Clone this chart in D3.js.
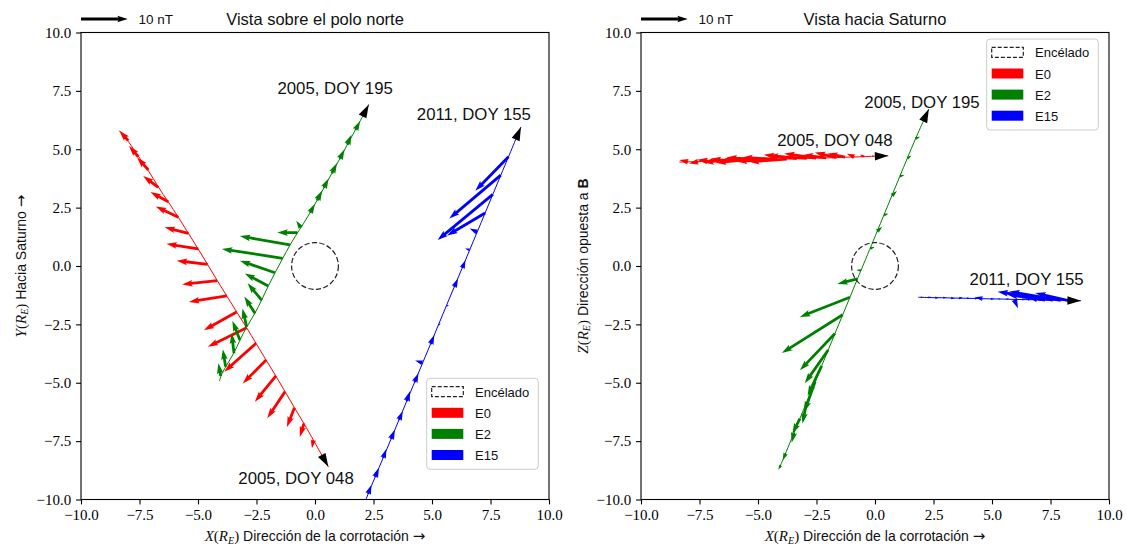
<!DOCTYPE html>
<html>
<head>
<meta charset="utf-8">
<script src="https://cdn.jsdelivr.net/npm/d3@7"></script>
<style>
  body { margin: 0; background: #fff; }
  svg { display: block; }
</style>
</head>
<body>
<svg id="chart" width="1127" height="548"></svg>
<script>
// ---------- data (positions in R_E, field in nT) ----------
const seriesNames = ["E0", "E2", "E15"];
const flybyLabels = ["2005, DOY 048", "2005, DOY 195", "2011, DOY 155"];
const seriesColors = ["red", "green", "blue"];
const tickValues = [-10, -7.5, -5, -2.5, 0, 2.5, 5, 7.5, 10];
const keyValue = 10; // nT
const enceladusRadius = 1;

// E0 - 2005 DOY 048
const e0Start = [-8.36, 5.79, 4.45];
const e0End = [0.57, -8.60, 4.72];
const e0X = [-7.98, -7.55, -7.12, -6.70, -6.27, -5.84, -5.41, -4.99, -4.59, -4.18, -3.77, -3.35, -2.92, -2.52, -2.09, -1.67, -1.28, -0.88, -0.47, -0.07];
const e0Y = [5.37, 4.68, 4.11, 3.37, 2.75, 2.09, 1.40, 0.73, 0.07, -0.63, -1.28, -1.97, -2.64, -3.31, -4.03, -4.71, -5.38, -6.07, -6.74, -7.45];
const e0Z = [4.46, 4.47, 4.49, 4.50, 4.51, 4.52, 4.54, 4.55, 4.56, 4.57, 4.58, 4.60, 4.61, 4.62, 4.63, 4.64, 4.66, 4.67, 4.68, 4.70];
const e0Bx = [-1.9, -2.0, -2.4, -3.2, -3.8, -4.8, -5.1, -6.8, -6.6, -7.5, -8.1, -7.0, -8.3, -6.8, -5.0, -4.5, -3.8, -1.6, -0.9, -0.3];
const e0By = [2.1, 2.3, 2.7, 2.4, 2.1, 2.3, 1.3, 1.1, 0.8, -0.8, -1.3, -3.9, -4.1, -6.1, -5.0, -5.5, -5.7, -4.1, -2.9, -1.8];
const e0Bz = [0.4, -0.4, 0.3, -0.3, 0.4, -0.5, 0.3, 0.5, -0.4, 0.4, -0.6, 0.8, 0.5, 1.0, 0.6, 1.1, 0.8, 0.7, 0.5, 0.3];

// E2 - 2005 DOY 195
const e2Start = [-4.08, -4.93, -8.60];
const e2End = [2.30, 6.92, 6.72];
const e2X = [-4.03, -3.82, -3.46, -3.21, -2.92, -2.56, -2.28, -2.00, -1.71, -1.38, -1.07, -0.75, -0.60, -0.21, 0.09, 0.38, 0.72, 1.06, 1.38, 1.73];
const e2Y = [-4.71, -4.31, -3.74, -3.17, -2.60, -2.03, -1.46, -0.86, -0.29, 0.33, 0.90, 1.43, 1.64, 2.28, 2.81, 3.35, 3.97, 4.59, 5.20, 5.83];
const e2Z = [-8.53, -8.02, -7.14, -6.54, -5.83, -4.96, -4.28, -3.60, -2.89, -2.09, -1.34, -0.55, -0.19, 0.75, 1.48, 2.18, 3.01, 3.84, 4.61, 5.46];
const e2Bx = [-0.5, -0.6, -0.5, -1.6, -0.9, -2.3, -3.0, -5.0, -7.5, -13.0, -10.7, -4.3, -1.0, 1.0, 1.1, 1.0, 1.1, 1.0, 0.9, 1.0];
const e2By = [2.7, 3.7, 4.3, 4.1, 3.9, 3.6, 3.6, 2.7, 2.6, 2.0, 1.9, 0.0, 1.5, 1.9, 2.1, 2.0, 2.2, 2.0, 2.1, 1.9];
const e2Bz = [-1.0, -1.5, -2.1, -3.2, -4.6, -6.4, -6.4, -7.1, -7.9, -8.2, -4.2, -1.1, 0.1, 0.3, 1.0, 0.3, 1.0, 0.3, 0.6, 0.4];

// E15 - 2011 DOY 155
const e15Start = [1.85, -10.80, -1.34];
const e15End = [8.80, 5.95, -1.49];
const e15X = [1.95, 2.27, 2.57, 2.91, 3.25, 3.59, 3.92, 4.26, 4.60, 4.94, 5.27, 5.61, 5.95, 6.29, 6.61, 6.93, 7.27, 7.60, 7.94, 8.27];
const e15Y = [-10.56, -9.76, -9.04, -8.22, -7.41, -6.59, -5.78, -4.97, -4.15, -3.34, -2.53, -1.71, -0.90, -0.09, 0.69, 1.45, 2.27, 3.07, 3.89, 4.68];
const e15Z = [-1.34, -1.35, -1.36, -1.36, -1.37, -1.38, -1.38, -1.39, -1.40, -1.41, -1.41, -1.42, -1.43, -1.44, -1.44, -1.45, -1.46, -1.46, -1.47, -1.48];
const e15Bx = [0.6, 0.7, 0.8, 0.7, 0.8, 0.8, 0.7, 0.8, -1.6, 0.8, 0.5, 0.6, 0.8, 0.7, -1.0, -1.6, -8.1, -11.8, -11.0, -7.1];
const e15By = [1.6, 1.9, 2.0, 1.9, 2.0, 1.9, 2.1, 1.9, 0.5, 1.9, 0.4, 0.2, 1.8, 1.7, 0.3, 0.8, -4.8, -9.8, -9.3, -7.3];
const e15Bz = [0.0, 0.1, 0.0, 0.1, -0.1, 0.2, 0.0, 0.1, 0.3, 0.0, 0.0, 0.1, -1.9, 0.2, 0.3, 0.4, 1.2, 1.8, 1.9, 1.6];

const flybys = [
  { x: e0X, y: e0Y, z: e0Z, bx: e0Bx, by: e0By, bz: e0Bz, start: e0Start, end: e0End },
  { x: e2X, y: e2Y, z: e2Z, bx: e2Bx, by: e2By, bz: e2Bz, start: e2Start, end: e2End },
  { x: e15X, y: e15Y, z: e15Z, bx: e15Bx, by: e15By, bz: e15Bz, start: e15Start, end: e15End }
];

// ---------- layout ----------
const SANS = "'Liberation Sans', Arial, sans-serif";
const SERIF = "'Liberation Serif', 'Times New Roman', serif";
const axTop = 32.5, axSize = 468, axH = 467;
const unitsPerNT = 0.2;          // 10 nT key arrow = 2 R_E
const shaftW = 2.8, headW = 6.6, headL = 10.5, headAL = 9.3;

const panels = [
  {
    left: 81, vIdx: 1, title: "Vista sobre el polo norte",
    yLabel: [["Y", "mi"], ["(", "m"], ["R", "mi"], ["E", "sub"], [")", "m"], [" Hacia Saturno ", "s"], ["→", "arr"]],
    labelPos: [[-0.81, -9.12], [0.86, 7.62], [6.79, 6.47]],
    legendTop: 378.3, yLabelX: 21
  },
  {
    left: 641, vIdx: 2, title: "Vista hacia Saturno",
    yLabel: [["Z", "mi"], ["(", "m"], ["R", "mi"], ["E", "sub"], [")", "m"], [" Dirección opuesta a ", "s"], ["B", "sb"]],
    labelPos: [[-1.71, 5.37], [2.01, 7.02], [6.48, -0.56]],
    legendTop: 39, yLabelX: 583
  }
];
const xLabel = [["X", "mi"], ["(", "m"], ["R", "mi"], ["E", "sub"], [")", "m"], [" Dirección de la corrotación ", "s"], ["→", "arr"]];

const svg = d3.select("#chart");
const fmt = v => d3.format(".1f")(v).replace("-", "−");

function arrowPts(L) {
  const s = L < headL ? L / headL : 1;
  const w = shaftW * s / 2, hw = headW * s / 2, hl = headL * s, hal = headAL * s;
  return [[0, -w], [L - hal, -w], [L - hl, -hw], [L, 0], [L - hl, hw], [L - hal, w], [0, w]];
}

function drawArrow(g, tx, ty, dx, dy, color) {
  const L = Math.hypot(dx, dy);
  if (L < 0.3) return;
  const a = Math.atan2(dy, dx) * 180 / Math.PI;
  g.append("polygon")
    .attr("points", arrowPts(L).map(p => p[0].toFixed(2) + "," + p[1].toFixed(2)).join(" "))
    .attr("transform", `translate(${tx},${ty}) rotate(${a})`)
    .attr("fill", color);
}

function mathText(sel, parts, size) {
  parts.forEach(([t, k], i) => {
    const ts = sel.append("tspan").text(t);
    if (k === "mi") ts.attr("font-family", SERIF).attr("font-style", "italic").attr("font-size", size + 1);
    if (k === "m") ts.attr("font-family", SERIF).attr("font-size", size + 1);
    if (k === "arr") ts.attr("font-family", "'DejaVu Sans', sans-serif").attr("font-size", size + 1);
    if (k === "sub") ts.attr("font-family", SERIF).attr("font-style", "italic").attr("font-size", size * 0.72).attr("dy", 3);
    if (k === "s") ts.attr("font-family", SANS).attr("font-size", size);
    if (k === "sb") ts.attr("font-family", SANS).attr("font-size", size).attr("font-weight", "bold");
    if (i > 0 && parts[i - 1][1] === "sub") ts.attr("dy", -3);
  });
}

panels.forEach((p, pi) => {
  const x = d3.scaleLinear().domain([-10, 10]).range([p.left, p.left + axSize]);
  const y = d3.scaleLinear().domain([-10, 10]).range([axTop + axH, axTop]);
  const bKeys = ["bx", "by", "bz"];
  const pKeys = ["x", "y", "z"];
  const vk = pKeys[p.vIdx], bvk = bKeys[p.vIdx];

  const clipId = "clip" + pi;
  svg.append("clipPath").attr("id", clipId)
    .append("rect").attr("x", p.left).attr("y", axTop).attr("width", axSize).attr("height", axH);

  const g = svg.append("g").attr("clip-path", `url(#${clipId})`);

  flybys.forEach((f, fi) => {
    const color = seriesColors[fi];
    const pts = [[f.start[0], f.start[p.vIdx]]]
      .concat(f.x.map((v, i) => [v, f[vk][i]]))
      .concat([[f.end[0], f.end[p.vIdx]]]);
    g.append("path")
      .attr("d", d3.line().x(d => x(d[0])).y(d => y(d[1])).curve(d3.curveBasis)(pts))
      .attr("fill", "none").attr("stroke", color).attr("stroke-width", 1);

    f.x.forEach((v, i) => {
      const tx = x(v), ty = y(f[vk][i]);
      const dx = x(v + f.bx[i] * unitsPerNT) - tx;
      const dy = y(f[vk][i] + f[bvk][i] * unitsPerNT) - ty;
      drawArrow(g, tx, ty, dx, dy, color);
    });

    // direction head at the end of the track
    const ex = x(f.end[0]), ey = y(f.end[p.vIdx]);
    const prev = pts[pts.length - 2];
    const a = Math.atan2(ey - y(prev[1]), ex - x(prev[0])) * 180 / Math.PI;
    g.append("polygon")
      .attr("points", "0,0 -13.5,-4.3 -13.5,4.3")
      .attr("transform", `translate(${ex},${ey}) rotate(${a})`)
      .attr("fill", "black");
  });

  // Enceladus
  g.append("circle")
    .attr("cx", x(0)).attr("cy", y(0))
    .attr("r", x(enceladusRadius) - x(0))
    .attr("fill", "none").attr("stroke", "#222").attr("stroke-width", 1.2)
    .attr("stroke-dasharray", "5.2,2.4");

  // axes
  const xAxis = svg.append("g").attr("transform", `translate(0,${axTop + axH})`)
    .call(d3.axisBottom(x).tickValues(tickValues).tickFormat(fmt).tickSize(4.9).tickPadding(4.9).tickSizeOuter(0));
  const yAxis = svg.append("g").attr("transform", `translate(${p.left},0)`)
    .call(d3.axisLeft(y).tickValues(tickValues).tickFormat(fmt).tickSize(4.9).tickPadding(4.9).tickSizeOuter(0));
  [xAxis, yAxis].forEach(ax => {
    ax.select(".domain").remove();
    ax.selectAll("line").attr("stroke", "black").attr("stroke-width", 1.1);
    ax.selectAll("text").attr("font-family", SERIF).attr("font-size", 15).attr("fill", "black");
  });

  svg.append("rect")
    .attr("x", p.left).attr("y", axTop).attr("width", axSize).attr("height", axH)
    .attr("fill", "none").attr("stroke", "black").attr("stroke-width", 1.1);

  // flyby labels
  flybyLabels.forEach((t, i) => {
    svg.append("text")
      .attr("x", x(p.labelPos[i][0])).attr("y", y(p.labelPos[i][1]))
      .attr("text-anchor", "middle").attr("dominant-baseline", "central")
      .attr("font-family", SANS).attr("font-size", 16.8).attr("fill", "#111")
      .text(t);
  });

  // axis labels
  const xl = svg.append("text")
    .attr("x", p.left + axSize / 2).attr("y", 541)
    .attr("text-anchor", "middle").attr("fill", "#111");
  mathText(xl, xLabel, 14);

  const yl = svg.append("text")
    .attr("transform", `translate(${p.yLabelX},${axTop + axH / 2}) rotate(-90)`)
    .attr("text-anchor", "middle").attr("dominant-baseline", "central").attr("fill", "#111");
  mathText(yl, p.yLabel, 14);

  // title
  svg.append("text")
    .attr("x", p.left + axSize / 2).attr("y", 24.5)
    .attr("text-anchor", "middle")
    .attr("font-family", SANS).attr("font-size", 16.5).attr("fill", "#111")
    .text(p.title);

  // key arrow
  const keyLen = x(-10 + keyValue * unitsPerNT) - x(-10);
  drawArrow(svg, p.left, 19, keyLen, 0, "black");
  svg.append("text")
    .attr("x", p.left + keyLen + 10.7).attr("y", 19.5)
    .attr("dominant-baseline", "central")
    .attr("font-family", SANS).attr("font-size", 13.5).attr("fill", "#111")
    .text(keyValue + " nT");

  // legend
  const lw = 111.6, lh = 91;
  const lx = p.left + axSize - 10.7 - lw, ly = p.legendTop;
  const lg = svg.append("g").attr("transform", `translate(${lx},${ly})`);
  lg.append("rect").attr("width", lw).attr("height", lh).attr("rx", 3.5)
    .attr("fill", "white").attr("fill-opacity", 0.8)
    .attr("stroke", "#cccccc").attr("stroke-width", 1);
  const entries = ["Encélado"].concat(seriesNames);
  entries.forEach((name, i) => {
    const cy = 13.4 + i * 21.1;
    const r = lg.append("rect").attr("x", 5).attr("y", cy - 5).attr("width", 31.6).attr("height", 10);
    if (i === 0) {
      r.attr("fill", "none").attr("stroke", "#222").attr("stroke-width", 1.2).attr("stroke-dasharray", "4,2");
    } else {
      r.attr("fill", seriesColors[i - 1]);
    }
    lg.append("text").attr("x", 48.3).attr("y", cy + 0.5)
      .attr("dominant-baseline", "central")
      .attr("font-family", SANS).attr("font-size", 13).attr("fill", "#111")
      .text(name);
  });
});
</script>
</body>
</html>
